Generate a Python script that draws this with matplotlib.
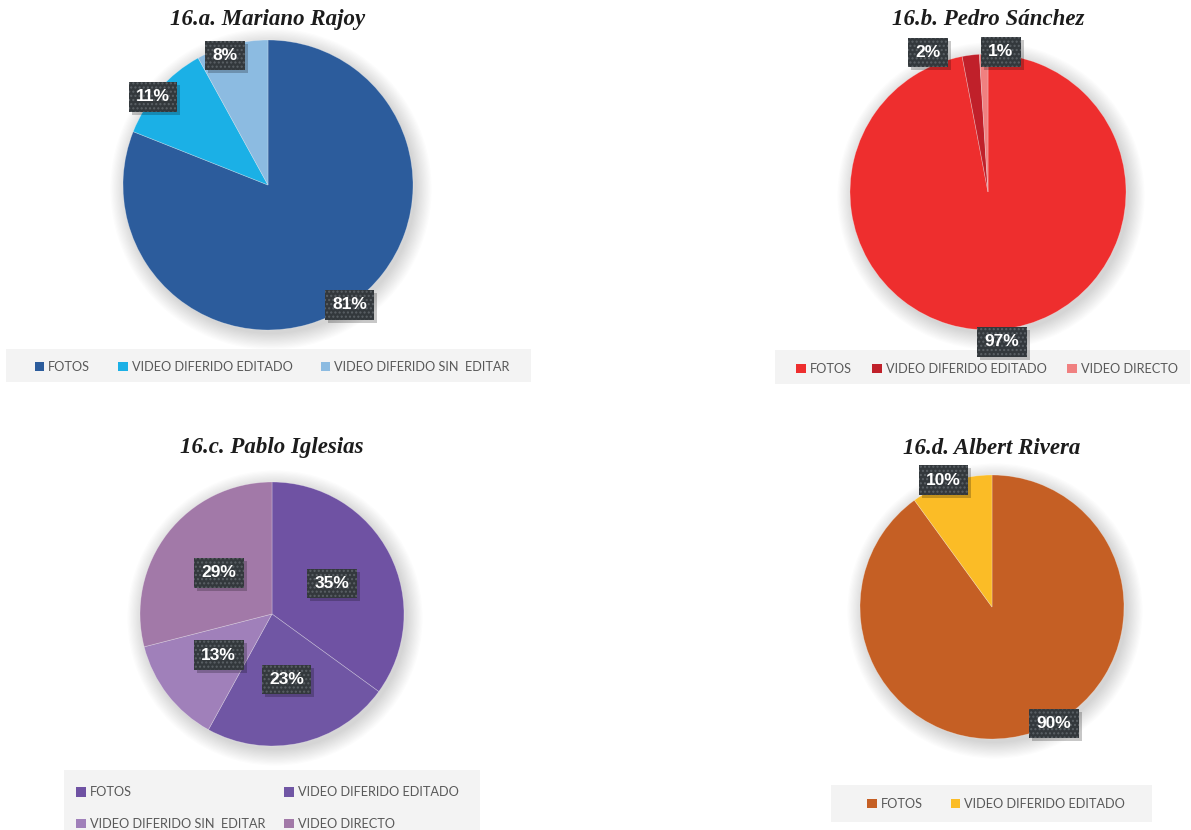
import matplotlib
matplotlib.use('Agg')
import matplotlib.pyplot as plt
import numpy as np
from matplotlib.patches import Circle, Rectangle, Patch

# porcentaje de publicaciones por formato, por candidato
labels_rajoy = ['FOTOS', 'VIDEO DIFERIDO EDITADO', 'VIDEO DIFERIDO SIN  EDITAR']
values_rajoy = [81, 11, 8]
colors_rajoy = ['#2c5c9c', '#1bb0e6', '#8cbbe1']

labels_sanchez = ['FOTOS', 'VIDEO DIFERIDO EDITADO', 'VIDEO DIRECTO']
values_sanchez = [97, 2, 1]
colors_sanchez = ['#ee2e2e', '#c0202a', '#f08080']

labels_iglesias = ['FOTOS', 'VIDEO DIFERIDO EDITADO', 'VIDEO DIFERIDO SIN  EDITAR', 'VIDEO DIRECTO']
values_iglesias = [35, 23, 13, 29]
colors_iglesias = ['#6f52a3', '#7056a4', '#a080ba', '#a279a8']

labels_rivera = ['FOTOS', 'VIDEO DIFERIDO EDITADO']
values_rivera = [90, 10]
colors_rivera = ['#c55f24', '#fbbc26']

W, H = 1191, 830
LEGEND_TEXT = '#595959'
BOX_DARK = '#33383c'

fig = plt.figure(figsize=(W / 100, H / 100), dpi=100)
ax = fig.add_axes([0, 0, 1, 1])
ax.set_xlim(0, W)
ax.set_ylim(0, H)

pct_labels = []


def draw_chart(title, labels, values, colors, cx, cy, r, title_y,
               label_dist, nudges, legend_bg, legend_anchor, ncol=None,
               order=None, legend_loc='center', colspace=1.8, rowspace=0.5):
    # pixel coords measured from the top, flip to axes coords
    cy = H - cy

    # soft shadow behind the pie
    for k in range(14):
        ax.add_patch(Circle((cx + 3, cy - 4), r + 1.2 * k, color='black',
                            alpha=0.011, lw=0, zorder=1))

    wedges, _ = ax.pie(values, colors=colors, startangle=90, counterclock=False,
                       center=(cx, cy), radius=r, frame=True,
                       wedgeprops=dict(linewidth=0.5, edgecolor=(1, 1, 1, 0.35)))
    for w in wedges:
        w.set_zorder(2)

    ax.text(cx, H - title_y, title, ha='center', va='center', fontsize=16.5,
            family='Liberation Serif', weight='bold', style='italic',
            color='#1c1c1c', zorder=5)

    for w, v, d, nud in zip(wedges, values, label_dist, nudges):
        mid = np.deg2rad((w.theta1 + w.theta2) / 2 + nud)
        lx = cx + d * r * np.cos(mid)
        ly = cy + d * r * np.sin(mid)
        t = ax.text(lx, ly, f'{v}%', ha='center', va='center', fontsize=12.5,
                    weight='bold', family='Liberation Sans', color='white', zorder=7,
                    bbox=dict(boxstyle='square,pad=0.42', fc=BOX_DARK, ec='#5b6166', lw=0))
        t.get_bbox_patch().set_hatch('....')
        pct_labels.append(t)

    x0, y0, x1, y1 = legend_bg
    ax.add_patch(Rectangle((x0, H - y1), x1 - x0, y1 - y0, color='#f3f3f3', lw=0, zorder=3))

    handles = [Patch(facecolor=c, edgecolor='none') for c in colors]
    if order is not None:
        handles = [handles[i] for i in order]
        labels = [labels[i] for i in order]
    fig.legend(handles, labels, loc=legend_loc,
               bbox_to_anchor=(legend_anchor[0] / W, 1 - legend_anchor[1] / H),
               ncol=ncol or len(labels), frameon=False, handlelength=0.75,
               handleheight=0.75, handletextpad=0.3, columnspacing=colspace,
               labelspacing=rowspace, borderpad=0,
               prop=dict(family='Lato', size=9.2), labelcolor=LEGEND_TEXT)


draw_chart('16.a. Mariano Rajoy', labels_rajoy, values_rajoy, colors_rajoy,
           268, 185, 145, 20, [1.0, 1.0, 0.94], [0, 4, 4],
           (6, 349, 531, 382), (272, 367), colspace=2.2)

draw_chart('16.b. Pedro Sánchez', labels_sanchez, values_sanchez, colors_sanchez,
           988, 192, 138, 20, [1.09, 1.1, 1.02], [0, 16, -7],
           (775, 350, 1190, 384), (987, 369), colspace=1.6)

draw_chart('16.c. Pablo Iglesias', labels_iglesias, values_iglesias, colors_iglesias,
           272, 614, 132, 447, [0.51, 0.51, 0.51, 0.51], [0, 0, 0, 0],
           (64, 770, 480, 830), (70, 780), ncol=2, order=[0, 2, 1, 3],
           legend_loc='upper left', colspace=1.5, rowspace=1.55)

draw_chart('16.d. Albert Rivera', labels_rivera, values_rivera, colors_rivera,
           992, 607, 132, 448, [1.0, 1.03], [10, 3],
           (831, 785, 1152, 822), (996, 804), colspace=2.2)

# drop shadows under the percentage boxes, sized from the rendered boxes
fig.canvas.draw()
for t in pct_labels:
    bb = t.get_bbox_patch().get_window_extent()
    ax.add_patch(Rectangle((bb.x0 + 3, bb.y0 - 3), bb.width, bb.height,
                           color='black', alpha=0.22, lw=0, zorder=6))

ax.set_xlim(0, W)
ax.set_ylim(0, H)
ax.set_aspect('auto')
ax.axis('off')

fig.savefig('out.png', dpi=100, facecolor='white')
